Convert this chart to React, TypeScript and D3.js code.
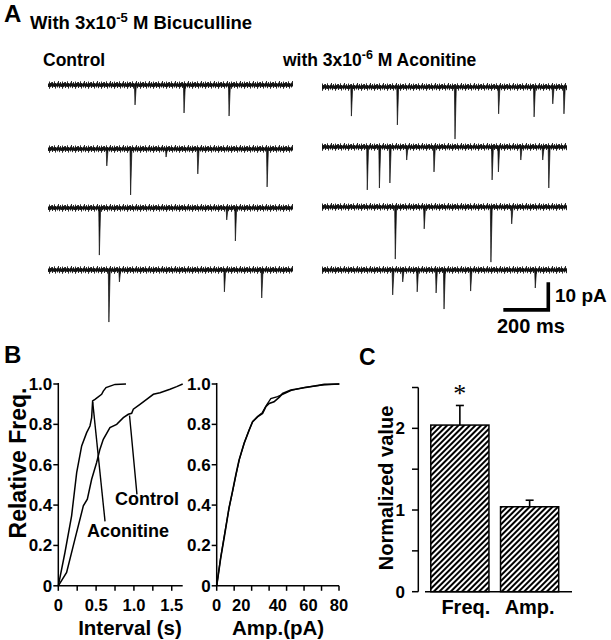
import React from 'react';
import * as d3 from 'd3';

const FONT = "'Liberation Sans', Arial, Helvetica, sans-serif";

// ---------- Panel A: synaptic events per sweep: [time (ms), amplitude (pA)] ----------
const sweepDuration = 1050;
const controlSweeps: [number, number][][] = [
  [[373, 7.2], [583, 10.1], [776, 11.2]],
  [[252, 6.1], [354, 16.6], [506, 2.9], [642, 9.0], [939, 13.7]],
  [[220, 17.0], [766, 4.3], [803, 11.9]],
  [[261, 18.8], [306, 4.3], [756, 7.9], [916, 10.1]],
];
const aconitineSweeps: [number, number][][] = [
  [[126, 10.5], [323, 13.7], [570, 18.8], [757, 9.7], [909, 10.8], [989, 6.1], [1037, 9.7]],
  [[194, 15.5], [246, 14.8], [291, 13.0], [363, 4.7], [480, 9.0], [729, 11.9], [756, 9.0], [852, 4.7], [946, 4.7], [972, 14.8]],
  [[314, 18.8], [438, 7.9], [724, 19.9], [813, 6.1]],
  [[303, 9.0], [346, 4.3], [408, 7.9], [489, 8.3], [523, 14.1], [637, 7.6], [914, 6.5]],
];
const scaleBarTime = 200; // ms
const scaleBarAmp = 10; // pA

// ---------- Panel B: cumulative distributions ----------
const intervalControl: [number, number][] = [
  [0, 0], [0.11, 0.066], [0.22, 0.231], [0.331, 0.396], [0.384, 0.429], [0.441, 0.528],
  [0.507, 0.611], [0.551, 0.677], [0.595, 0.726], [0.683, 0.784], [0.772, 0.8],
  [0.86, 0.833], [0.926, 0.85], [0.97, 0.855], [0.992, 0.875], [1.08, 0.899],
  [1.168, 0.924], [1.257, 0.949], [1.345, 0.957], [1.477, 0.974], [1.565, 0.987], [1.645, 1.0],
];
const intervalAconitine: [number, number][] = [
  [0, 0], [0.088, 0.165], [0.176, 0.347], [0.243, 0.561], [0.309, 0.693], [0.375, 0.759],
  [0.419, 0.792], [0.441, 0.833], [0.454, 0.916], [0.485, 0.924], [0.573, 0.949],
  [0.595, 0.965], [0.631, 0.982], [0.75, 0.998], [0.895, 1.0],
];
const ampControl: [number, number][] = [
  [0, 0], [2.6, 0.137], [5.2, 0.252], [8.0, 0.384], [10.3, 0.467], [12.5, 0.549],
  [14.6, 0.623], [17.9, 0.705], [21.2, 0.771], [23.4, 0.812], [26.7, 0.837], [30, 0.854],
  [32.1, 0.887], [34.3, 0.904], [37.5, 0.912], [41, 0.935], [43.1, 0.953], [48.5, 0.97],
  [57.2, 0.981], [70.4, 0.998], [80.2, 1.0],
];
const ampAconitine: [number, number][] = [
  [0, 0], [2.4, 0.13], [5.0, 0.25], [8.2, 0.39], [10.5, 0.472], [12.7, 0.553],
  [14.9, 0.628], [18.1, 0.71], [21.0, 0.768], [23.6, 0.815], [26.9, 0.84], [29.8, 0.858],
  [32.6, 0.896], [35.4, 0.928], [39.8, 0.937], [43.5, 0.95], [48.8, 0.968],
  [57.5, 0.983], [70.0, 0.996], [80.2, 1.0],
];
const freqTicks = [0, 0.2, 0.4, 0.6, 0.8, 1.0];
const intervalLabels = [0, 0.5, 1.0, 1.5];
const intervalTicks = [0, 0.25, 0.5, 0.75, 1.0, 1.25, 1.5];
const ampLabels = [0, 20, 40, 60, 80];

// ---------- Panel C: normalized values ----------
const barCategories = ['Freq.', 'Amp.'];
const barValues = [2.04, 1.04];
const barErrors = [0.24, 0.08];
const barSignificant = [true, false];
const normTicks = [0, 0.5, 1, 1.5, 2, 2.5];
const normLabels = [0, 1, 2];

const fmt1 = (v: number) => (v === 0 ? '0' : v.toFixed(1));

function Sweep({ events, base, x, amp }: { events: [number, number][]; base: number; x: d3.ScaleLinear<number, number>; amp: number }) {
  const [x0, x1] = x.range();
  return (
    <g transform={`translate(0,${base})`}>
      <rect x={x0} y={-4} width={x1 - x0} height={8} fill="url(#noise)" />
      <line x1={x0} x2={x1} y1={0} y2={0} stroke="#111" strokeWidth={3} />
      {events.map(([t, a], i) => {
        const px = x(t);
        const d = a * amp;
        return <path key={i} d={`M${px - 0.6},0 L${px},${d} L${px + 1.3},0 Z`} fill="#111" stroke="#111" strokeWidth={0.7} />;
      })}
    </g>
  );
}

export default function App() {
  // Panel A scales
  const xCtrl = d3.scaleLinear().domain([0, sweepDuration]).range([48, 293]);
  const xAco = d3.scaleLinear().domain([0, sweepDuration]).range([322, 567]);
  const pxPerPA = 2.77;
  const ctrlBases = [85, 149, 208, 270];
  const acoBases = [87, 147, 207, 270];

  // scale bar
  const sbRight = 550;
  const sbBottom = 311.7;
  const sbLen = xAco(scaleBarTime) - xAco(0);
  const sbAmp = scaleBarAmp * pxPerPA;

  // Panel B scales
  const yB = d3.scaleLinear().domain([0, 1]).range([585.8, 384]);
  const xInt = d3.scaleLinear().domain([0, 1.645]).range([58.3, 182.7]);
  const xAmp = d3.scaleLinear().domain([0, 80]).range([216.7, 339]);
  const lineInt = d3.line<[number, number]>().x((d) => xInt(d[0])).y((d) => yB(d[1]));
  const lineAmp = d3.line<[number, number]>().x((d) => xAmp(d[0])).y((d) => yB(d[1]));
  const ampTickVals = d3.range(8).map((i) => (i * 80) / 7);

  // Panel C scales
  const yC = d3.scaleLinear().domain([0, 2.5]).range([591.7, 387.5]);
  const xC = d3.scaleBand<string>().domain(barCategories).range([424.5, 565]).paddingInner(0.166).paddingOuter(0.09);

  const bold = { fontFamily: FONT, fontWeight: 700 as const, fill: '#000' };

  const noiseLines: [number, number, number][] = [
    [0.5, 1, 7], [1.5, 2.5, 5.5], [2.5, 0.3, 6], [3.5, 2, 7.6], [4.5, 3, 5], [5.5, 1.5, 6.5],
    [6.5, 0, 5], [7.5, 2.5, 7.2], [8.5, 1, 5.5], [9.5, 3, 6], [10.5, 0.5, 7.8], [11.5, 2, 6.2], [12.5, 1.2, 4.8],
  ];

  return (
    <svg width={611} height={640} style={{ position: 'absolute', left: 0, top: 0, background: '#fff' }}>
      <defs>
        <pattern id="noise" x={0} y={-4} width={13} height={8} patternUnits="userSpaceOnUse">
          {noiseLines.map(([x, a, b], i) => (
            <line key={i} x1={x} x2={x} y1={a} y2={b} stroke="#111" strokeWidth={0.9} />
          ))}
        </pattern>
        <pattern id="hatch" width={4} height={10} patternUnits="userSpaceOnUse" patternTransform="rotate(45)">
          <rect width={4} height={10} fill="#fff" />
          <line x1={1} x2={1} y1={0} y2={10} stroke="#000" strokeWidth={2} />
        </pattern>
      </defs>

      {/* ---------------- Panel A ---------------- */}
      <text x={4} y={22} fontSize={24} {...bold}>A</text>
      <text x={30} y={29} fontSize={18.5} {...bold}>
        With 3x10<tspan dy={-7} fontSize={13}>-5</tspan><tspan dy={7}> M Bicuculline</tspan>
      </text>
      <text x={43} y={66} fontSize={17.5} {...bold}>Control</text>
      <text x={283} y={66} fontSize={17.5} {...bold}>
        with 3x10<tspan dy={-7} fontSize={12.5}>-6</tspan><tspan dy={7}> M Aconitine</tspan>
      </text>

      {controlSweeps.map((ev, i) => (
        <Sweep key={'c' + i} events={ev} base={ctrlBases[i]} x={xCtrl} amp={pxPerPA} />
      ))}
      {aconitineSweeps.map((ev, i) => (
        <Sweep key={'a' + i} events={ev} base={acoBases[i]} x={xAco} amp={pxPerPA} />
      ))}

      {/* scale bar */}
      <path
        d={`M${sbRight - sbLen},${sbBottom} L${sbRight - 1.7},${sbBottom} L${sbRight - 1.7},${sbBottom - sbAmp}`}
        fill="none"
        stroke="#000"
        strokeWidth={3.6}
        strokeLinejoin="miter"
        transform="translate(0,-1.8)"
      />
      <text x={555} y={302} fontSize={19} {...bold}>10 pA</text>
      <text x={497} y={333} fontSize={20} {...bold}>200 ms</text>

      {/* ---------------- Panel B ---------------- */}
      <text x={4} y={363} fontSize={24} {...bold}>B</text>

      {/* left plot axes */}
      <g stroke="#000" strokeWidth={1.5} fill="none">
        <line x1={xInt(0)} x2={xInt(0)} y1={yB(1) - 1} y2={yB(0)} />
        <line x1={xInt(0)} x2={xInt(1.645)} y1={yB(0)} y2={yB(0)} />
        {freqTicks.map((t) => (
          <line key={t} x1={xInt(0) - 5} x2={xInt(0)} y1={yB(t)} y2={yB(t)} />
        ))}
        {intervalTicks.map((t) => (
          <line key={t} x1={xInt(t)} x2={xInt(t)} y1={yB(0)} y2={yB(0) + 5} />
        ))}
      </g>
      {freqTicks.map((t) => (
        <text key={t} x={xInt(0) - 6} y={yB(t) + 6} fontSize={17} textAnchor="end" {...bold}>{fmt1(t)}</text>
      ))}
      {intervalLabels.map((t) => (
        <text key={t} x={xInt(t)} y={611} fontSize={16.5} textAnchor="middle" {...bold}>{fmt1(t)}</text>
      ))}
      <text x={130} y={635} fontSize={20.5} textAnchor="middle" {...bold}>Interval (s)</text>
      <text transform="translate(26,463) rotate(-90)" fontSize={23} textAnchor="middle" {...bold}>Relative Freq.</text>

      <path d={lineInt(intervalControl) || ''} fill="none" stroke="#000" strokeWidth={1.5} />
      <path d={lineInt(intervalAconitine) || ''} fill="none" stroke="#000" strokeWidth={1.5} />
      {/* annotations */}
      <line x1={xInt(0.618)} y1={yB(0.319)} x2={xInt(0.455)} y2={yB(0.91)} stroke="#000" strokeWidth={1.4} />
      <line x1={xInt(1.04)} y1={yB(0.453)} x2={xInt(0.942)} y2={yB(0.844)} stroke="#000" strokeWidth={1.4} />
      <text x={xInt(1.173)} y={505} fontSize={18} textAnchor="middle" {...bold}>Control</text>
      <text x={xInt(0.923)} y={537} fontSize={18} textAnchor="middle" {...bold}>Aconitine</text>

      {/* middle plot axes */}
      <g stroke="#000" strokeWidth={1.5} fill="none">
        <line x1={xAmp(0)} x2={xAmp(0)} y1={yB(1) - 1} y2={yB(0)} />
        <line x1={xAmp(0)} x2={xAmp(80)} y1={yB(0)} y2={yB(0)} />
        {freqTicks.map((t) => (
          <line key={t} x1={xAmp(0) - 5} x2={xAmp(0)} y1={yB(t)} y2={yB(t)} />
        ))}
        {ampTickVals.map((t, i) => (
          <line key={i} x1={xAmp(t)} x2={xAmp(t)} y1={yB(0)} y2={yB(0) + 5} />
        ))}
      </g>
      {freqTicks.map((t) => (
        <text key={t} x={xAmp(0) - 6} y={yB(t) + 6} fontSize={17} textAnchor="end" {...bold}>{fmt1(t)}</text>
      ))}
      {ampLabels.map((t) => (
        <text key={t} x={xAmp(t) - (t === 20 ? 6 : 0)} y={611} fontSize={16.5} textAnchor="middle" {...bold}>{t}</text>
      ))}
      <text x={278} y={635} fontSize={20.5} textAnchor="middle" {...bold}>Amp.(pA)</text>
      <path d={lineAmp(ampControl) || ''} fill="none" stroke="#000" strokeWidth={1.6} />
      <path d={lineAmp(ampAconitine) || ''} fill="none" stroke="#000" strokeWidth={1.3} />

      {/* ---------------- Panel C ---------------- */}
      <text x={359} y={365} fontSize={23} {...bold}>C</text>
      <g stroke="#000" strokeWidth={1.5} fill="none">
        <line x1={418.3} x2={418.3} y1={yC(2.5)} y2={yC(0)} />
        <line x1={425} x2={572} y1={yC(0)} y2={yC(0)} />
        {normTicks.map((t) => (
          <line key={t} x1={412} x2={418.3} y1={yC(t)} y2={yC(t)} />
        ))}
      </g>
      {normLabels.map((t) => (
        <text key={t} x={405} y={yC(t) + 6} fontSize={17} textAnchor="end" {...bold}>{t}</text>
      ))}
      <text transform="translate(393,488) rotate(-90)" fontSize={20} textAnchor="middle" {...bold}>Normalized value</text>

      {barCategories.map((c, i) => {
        const x0 = xC(c) as number;
        const bw = xC.bandwidth();
        const cx = x0 + bw / 2;
        const top = yC(barValues[i]);
        const errTop = yC(barValues[i] + barErrors[i]);
        return (
          <g key={c}>
            <line x1={cx} x2={cx} y1={top} y2={errTop} stroke="#000" strokeWidth={1.6} />
            <line x1={cx - 4} x2={cx + 4} y1={errTop} y2={errTop} stroke="#000" strokeWidth={1.6} />
            <rect x={x0} y={top} width={bw} height={yC(0) - top} fill="url(#hatch)" stroke="#000" strokeWidth={1.5} />
            {barSignificant[i] && (
              <text x={cx} y={errTop - 3} fontSize={26} textAnchor="middle" fontFamily="'Liberation Serif', serif" fontWeight={400} fill="#000">*</text>
            )}
            <text x={cx + 6 * (i === 0 ? 1 : 0)} y={614} fontSize={20} textAnchor="middle" {...bold}>{c}</text>
          </g>
        );
      })}
    </svg>
  );
}
